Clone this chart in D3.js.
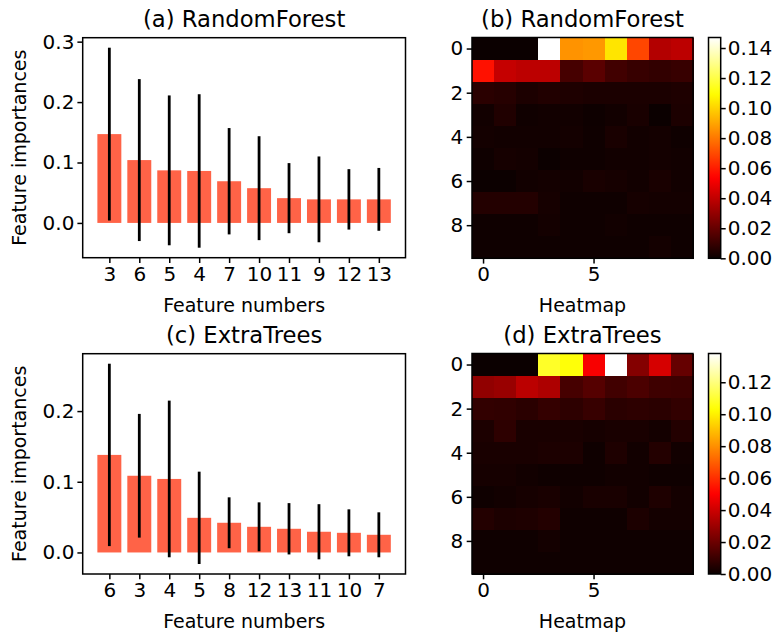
<!DOCTYPE html>
<html>
<head>
<meta charset="utf-8">
<script src="https://cdn.jsdelivr.net/npm/d3@7"></script>
<style>
body { margin: 0; background: #fff; }
text { font-family: "DejaVu Sans", sans-serif; }
</style>
</head>
<body>
<svg id="chart"></svg>
<script>
//data
// (a) RandomForest - sorted importances and std
const rfFeatures = ["3", "6", "5", "4", "7", "10", "11", "9", "12", "13"];
const rfImportance = [0.147, 0.104, 0.087, 0.086, 0.069, 0.0575, 0.041, 0.039, 0.039, 0.039];
const rfStd = [0.143, 0.134, 0.124, 0.127, 0.088, 0.086, 0.058, 0.071, 0.050, 0.052];

// (c) ExtraTrees
const etFeatures = ["6", "3", "4", "5", "8", "12", "13", "11", "10", "7"];
const etImportance = [0.138, 0.1085, 0.104, 0.049, 0.042, 0.0363, 0.0335, 0.0293, 0.0278, 0.025];
const etStd = [0.129, 0.0875, 0.1108, 0.0653, 0.036, 0.0346, 0.0363, 0.039, 0.0332, 0.0318];

// (b) heatmap rows, RandomForest
const rfMap = [
    [0.0, 0.0, 0.0, 0.147, 0.086, 0.087, 0.104, 0.069, 0.037, 0.039],
    [0.0575, 0.041, 0.039, 0.039, 0.013, 0.0174, 0.012, 0.0098, 0.0087, 0.0098],
    [0.0069, 0.006, 0.0038, 0.0049, 0.0043, 0.0036, 0.0036, 0.0036, 0.0036, 0.0043],
    [0.0016, 0.0047, 0.0012, 0.0016, 0.0016, 0.0008, 0.0016, 0.0032, 0.0, 0.0038],
    [0.0021, 0.0016, 0.0016, 0.0016, 0.0021, 0.001, 0.0032, 0.0016, 0.0021, 0.001],
    [0.001, 0.0025, 0.0021, 0.0003, 0.001, 0.001, 0.0016, 0.0016, 0.0021, 0.0016],
    [0.0003, 0.0003, 0.0016, 0.0021, 0.0016, 0.0032, 0.0025, 0.0016, 0.0032, 0.0016],
    [0.0054, 0.0054, 0.0054, 0.0025, 0.001, 0.001, 0.001, 0.0025, 0.0021, 0.0021],
    [0.001, 0.001, 0.001, 0.0021, 0.001, 0.001, 0.0016, 0.001, 0.001, 0.001],
    [0.001, 0.001, 0.001, 0.001, 0.001, 0.001, 0.001, 0.001, 0.0021, 0.001]
];

// (d) heatmap rows, ExtraTrees
const etMap = [
    [0.0, 0.0, 0.0, 0.1085, 0.104, 0.049, 0.138, 0.025, 0.042, 0.0186],
    [0.0278, 0.0293, 0.0363, 0.0335, 0.0123, 0.0153, 0.0113, 0.0133, 0.0106, 0.0102],
    [0.0081, 0.0077, 0.0065, 0.0085, 0.0071, 0.0092, 0.0065, 0.0071, 0.0065, 0.0081],
    [0.0036, 0.0071, 0.003, 0.003, 0.003, 0.0024, 0.003, 0.003, 0.002, 0.005],
    [0.003, 0.003, 0.003, 0.0036, 0.0036, 0.0009, 0.004, 0.0015, 0.005, 0.0015],
    [0.0024, 0.0024, 0.0015, 0.0009, 0.0009, 0.0009, 0.0015, 0.0015, 0.0009, 0.0009],
    [0.0009, 0.0015, 0.0024, 0.003, 0.0015, 0.003, 0.003, 0.0015, 0.004, 0.0019],
    [0.005, 0.0036, 0.004, 0.005, 0.0009, 0.0009, 0.0009, 0.0036, 0.0019, 0.0019],
    [0.0009, 0.0009, 0.0009, 0.0019, 0.0009, 0.0009, 0.0009, 0.0009, 0.0009, 0.0009],
    [0.0009, 0.0009, 0.0009, 0.0009, 0.0009, 0.0009, 0.0009, 0.0009, 0.0009, 0.0009]
];

const titles = ["(a) RandomForest", "(b) RandomForest", "(c) ExtraTrees", "(d) ExtraTrees"];

//setting
const Width = 779;
const Height = 635;
const fontSize = 19;
const tickSize = 20;
const titleSize = 22.7;

const svg = d3.select("#chart").attr("width", Width).attr("height", Height);
svg.append("rect").attr("width", Width).attr("height", Height).attr("fill", "#fff");

// matplotlib "hot"
function hot(t) {
    const r = Math.min(1, 0.0416 + t * (1 - 0.0416) / 0.365079);
    const g = Math.max(0, Math.min(1, (t - 0.365079) / (0.746032 - 0.365079)));
    const b = Math.max(0, Math.min(1, (t - 0.746032) / (1 - 0.746032)));
    return d3.rgb(r * 255, g * 255, b * 255).toString();
}

function styleAxis(g) {
    g.select(".domain").remove();
    g.selectAll("line").attr("stroke", "#000").attr("stroke-width", 1.5);
    g.selectAll("text").attr("fill", "#000").style("font-size", tickSize + "px")
        .style("font-family", "DejaVu Sans");
}

function barPanel(features, vals, errs, box, title) {
    const n = vals.length;
    const xScale = d3.scaleLinear().domain([-0.4 - 0.049 * n, n - 0.6 + 0.049 * n]).range([box.x0, box.x1]);
    const lo = d3.min(vals, (d, i) => Math.min(0, d - errs[i]));
    const hi = d3.max(vals, (d, i) => d + errs[i]);
    const pad = (hi - lo) * 0.05;
    const yScale = d3.scaleLinear().domain([lo - pad, hi + pad]).range([box.y1, box.y0]);
    const g = svg.append("g");

    g.selectAll("rect.bar")
        .data(vals)
        .join("rect")
        .classed("bar", true)
        .attr("x", (d, i) => xScale(i - 0.4))
        .attr("width", (d, i) => xScale(i + 0.4) - xScale(i - 0.4))
        .attr("y", d => yScale(d))
        .attr("height", d => yScale(0) - yScale(d))
        .attr("fill", "tomato");

    g.selectAll("line.err")
        .data(vals)
        .join("line")
        .classed("err", true)
        .attr("x1", (d, i) => xScale(i))
        .attr("x2", (d, i) => xScale(i))
        .attr("y1", (d, i) => yScale(d - errs[i]))
        .attr("y2", (d, i) => yScale(d + errs[i]))
        .attr("stroke", "#000")
        .attr("stroke-width", 2.8);

    const yTicks = d3.range(0, hi + pad, 0.1);
    g.append("g")
        .attr("transform", `translate(${box.x0},0)`)
        .call(d3.axisLeft(yScale).tickValues(yTicks).tickFormat(d3.format(".1f")).tickSize(5.3).tickPadding(3))
        .call(styleAxis);

    g.append("g")
        .attr("transform", `translate(0,${box.y1})`)
        .call(d3.axisBottom(xScale).tickValues(d3.range(n)).tickFormat(i => features[i]).tickSize(5.3).tickPadding(3.5))
        .call(styleAxis);

    g.append("rect")
        .attr("x", box.x0).attr("y", box.y0)
        .attr("width", box.x1 - box.x0).attr("height", box.y1 - box.y0)
        .attr("fill", "none").attr("stroke", "#000").attr("stroke-width", 1.5);

    g.append("text")
        .attr("x", (box.x0 + box.x1) / 2).attr("y", box.y0 - 11)
        .attr("text-anchor", "middle").style("font-size", titleSize + "px")
        .text(title);
    g.append("text")
        .attr("x", (box.x0 + box.x1) / 2).attr("y", box.y1 + 54)
        .attr("text-anchor", "middle").style("font-size", fontSize + "px")
        .text("Feature numbers");
    g.append("text")
        .attr("transform", `translate(26,${(box.y0 + box.y1) / 2}) rotate(-90)`)
        .attr("text-anchor", "middle").style("font-size", fontSize + "px")
        .text("Feature importances");
}

function heatPanel(rows, box, cbar, title, id) {
    const xScale = d3.scaleLinear().domain([-0.5, 9.5]).range([box.x0, box.x1]);
    const yScale = d3.scaleLinear().domain([-0.5, 9.5]).range([box.y0, box.y1]);
    const vmax = d3.max(rows.flat());
    const color = d3.scaleSequential(hot).domain([0, vmax]);
    const g = svg.append("g");

    const cells = rows.flatMap((r, i) => r.map((v, j) => ({ i, j, v })));
    g.selectAll("rect.cell")
        .data(cells)
        .join("rect")
        .classed("cell", true)
        .attr("x", d => xScale(d.j - 0.5))
        .attr("y", d => yScale(d.i - 0.5))
        .attr("width", xScale(1) - xScale(0) + 0.5)
        .attr("height", yScale(1) - yScale(0) + 0.5)
        .attr("shape-rendering", "crispEdges")
        .attr("fill", d => color(d.v));

    g.append("g")
        .attr("transform", `translate(${box.x0},0)`)
        .call(d3.axisLeft(yScale).tickValues([0, 2, 4, 6, 8]).tickSize(5.3).tickPadding(3.5))
        .call(styleAxis);
    g.append("g")
        .attr("transform", `translate(0,${box.y1})`)
        .call(d3.axisBottom(xScale).tickValues([0, 5]).tickSize(5.3).tickPadding(3.5))
        .call(styleAxis);

    g.append("rect")
        .attr("x", box.x0).attr("y", box.y0)
        .attr("width", box.x1 - box.x0).attr("height", box.y1 - box.y0)
        .attr("fill", "none").attr("stroke", "#000").attr("stroke-width", 1.5);

    g.append("text")
        .attr("x", (box.x0 + box.x1) / 2).attr("y", box.y0 - 11)
        .attr("text-anchor", "middle").style("font-size", titleSize + "px")
        .text(title);
    g.append("text")
        .attr("x", (box.x0 + box.x1) / 2).attr("y", box.y1 + 54)
        .attr("text-anchor", "middle").style("font-size", fontSize + "px")
        .text("Heatmap");

    // colorbar
    const grad = svg.append("defs").append("linearGradient")
        .attr("id", id).attr("x1", 0).attr("y1", 1).attr("x2", 0).attr("y2", 0);
    grad.selectAll("stop")
        .data(d3.range(0, 1.0001, 0.02))
        .join("stop")
        .attr("offset", d => d)
        .attr("stop-color", d => hot(d));
    const cScale = d3.scaleLinear().domain([0, vmax]).range([box.y1, box.y0]);
    g.append("rect")
        .attr("x", cbar.x0).attr("y", box.y0)
        .attr("width", cbar.x1 - cbar.x0).attr("height", box.y1 - box.y0)
        .attr("fill", `url(#${id})`).attr("stroke", "#000").attr("stroke-width", 1.5);
    g.append("g")
        .attr("transform", `translate(${cbar.x1},0)`)
        .call(d3.axisRight(cScale).tickValues(d3.range(0, vmax + 1e-9, 0.02)).tickFormat(d3.format(".2f")).tickSize(5).tickPadding(2))
        .call(styleAxis);
}

barPanel(rfFeatures, rfImportance, rfStd, { x0: 82.7, x1: 405.5, y0: 37.7, y1: 257.7 }, titles[0]);
barPanel(etFeatures, etImportance, etStd, { x0: 82.7, x1: 405.5, y0: 353.7, y1: 574 }, titles[2]);
heatPanel(rfMap, { x0: 472, x1: 693, y0: 37.5, y1: 258.3 }, { x0: 708.5, x1: 720.7 }, titles[1], "cbarB");
heatPanel(etMap, { x0: 472, x1: 693, y0: 353.5, y1: 574 }, { x0: 708.5, x1: 720.7 }, titles[3], "cbarD");
</script>
</body>
</html>
